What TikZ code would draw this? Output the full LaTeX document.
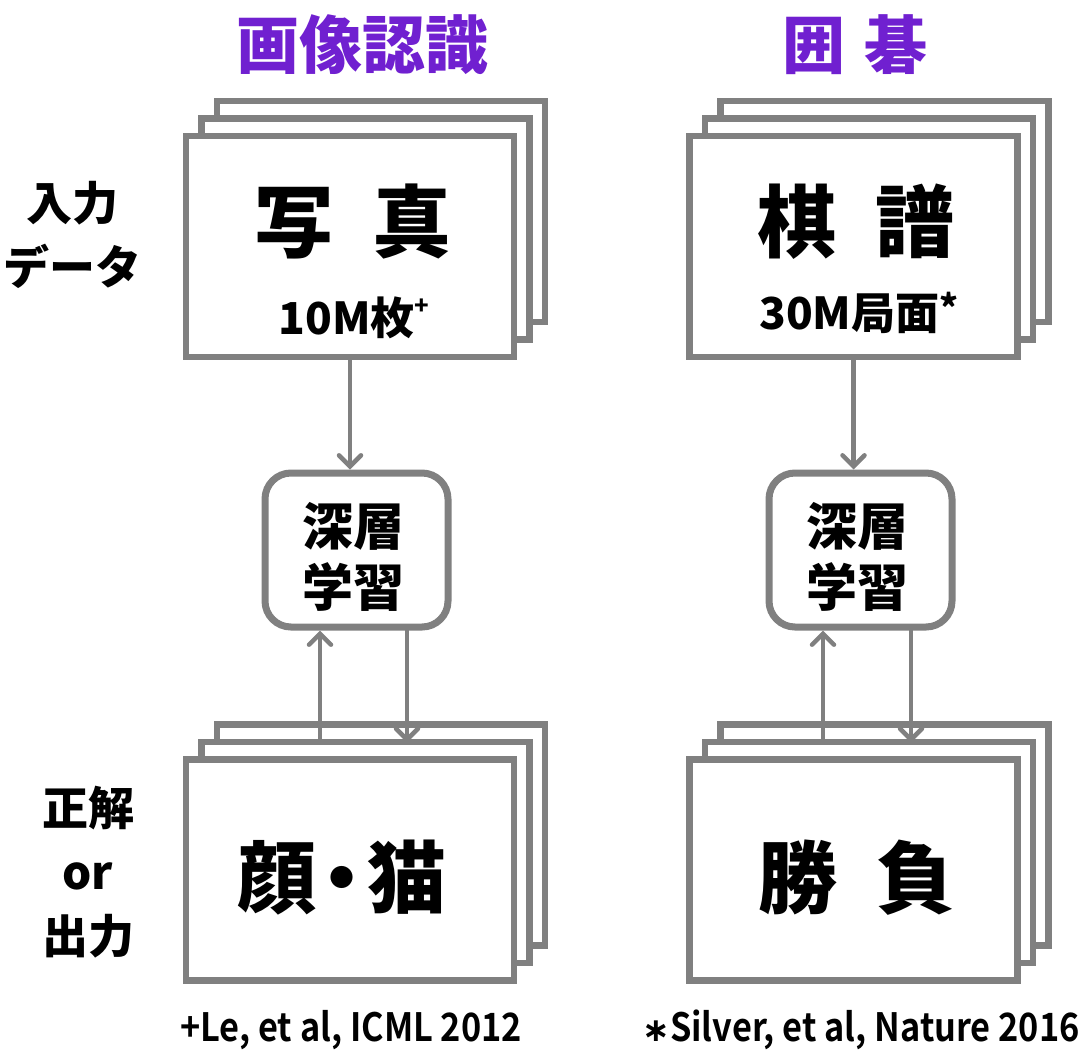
\documentclass[tikz,border=0pt]{standalone}
\usepackage{fontspec}
\usetikzlibrary{arrows.meta}
\newfontfamily\jpb{Noto Sans CJK JP Black}
\newfontfamily\jpbn{Noto Sans CJK JP Bold}[FakeStretch=0.88]
\newfontfamily\dvb{DejaVu Sans Bold}
\definecolor{lg}{RGB}{128,128,128}
\definecolor{pu}{RGB}{112,32,208}
\begin{document}
\begin{tikzpicture}[x=1pt,y=-1pt,
  page/.style={draw=lg,line width=6.5pt,fill=white,minimum width=328pt,minimum height=221pt,inner sep=0pt},
  dlbox/.style={draw=lg,line width=7pt,fill=white,rounded corners=26pt,minimum width=183pt,minimum height=154pt,inner sep=0pt},
  arr/.style={draw=lg,line width=4.5pt,line cap=round,-{Straight Barb[length=11pt,width=22pt,line cap=round]}},
  ttl/.style={text=pu,font=\jpb\fontsize{63}{63}\selectfont},
  big/.style={font=\jpb\fontsize{79}{79}\selectfont},
  sub/.style={font=\jpb\fontsize{44}{44}\selectfont},
  mid/.style={font=\jpb\fontsize{51}{61}\selectfont,align=center},
  side/.style={font=\jpb\fontsize{46}{64}\selectfont,align=center},
  foot/.style={font=\jpbn\fontsize{39}{39}\selectfont}]
\useasboundingbox (0,0) rectangle (1086,1050);

% titles
\node[ttl] (t1) at (362,45) {画像認識};
\node[ttl] (t2) at (855,45) {囲\hspace{0.3em}碁};

% top stacks
\foreach \n/\cx in {a/350,b/853.5}{
  \node[page] (\n3) at (\cx+31,211.5) {};
  \node[page] (\n2) at (\cx+15.5,229) {};
  \node[page] (\n1) at (\cx,246.5) {};
}
% bottom stacks
\foreach \n/\cx in {c/350,d/853.5}{
  \node[page] (\n3) at (\cx+31,835) {};
  \node[page] (\n2) at (\cx+15.5,852.5) {};
  \node[page] (\n1) at (\cx,870) {};
}

\node[big] (ph) at (353,222) {写\hspace{0.5em}真};
\node[sub] (n1) at (354,318) {10M枚\raisebox{0.45em}{\fontsize{24}{24}\selectfont +}};
\node[big] (ks) at (856,222) {棋\hspace{0.5em}譜};
\node[sub] (n2) at (859,313) {30M局面\raisebox{0.2em}{\fontsize{36}{36}\selectfont *}};

\node[big] (fc) at (342,878) {顔\hspace{-0.18em}・\hspace{-0.18em}猫};
\node[big] (wl) at (857,878) {勝\hspace{0.5em}負};

% deep learning boxes
\node[dlbox] (dl1) at (356.5,550) {};
\node[dlbox] (dl2) at (860.5,550) {};
\node[mid] (m1) at (353,557) {深層\\学習};
\node[mid] (m2) at (857,557) {深層\\学習};

% side labels
\node[side] (s1) at (72,235) {入力\\データ};
\node[side] (s2) at (88,872) {正解\\or\\出力};

% footnotes
\node[foot] (f1) at (351,1030) {+Le, et al, ICML 2012};
\node[foot] (f2) at (861,1030) {{\dvb\fontsize{33}{33}\selectfont ∗}Silver, et al, Nature 2016};

% arrows
\coordinate (ua) at (320,0);
\coordinate (da) at (407,0);
\coordinate (ub) at (823,0);
\coordinate (db) at (911,0);
\draw[arr] (a1.south) -- (dl1.north -| a1.south);
\draw[arr] (b1.south) -- (dl2.north -| b1.south);
\draw[arr] (c2.north -| ua) -- (dl1.south -| ua);
\draw[arr] (dl1.south -| da) -- ([yshift=-4pt]c2.north -| da);
\draw[arr] (d2.north -| ub) -- (dl2.south -| ub);
\draw[arr] (dl2.south -| db) -- ([yshift=-4pt]d2.north -| db);
\end{tikzpicture}
\end{document}
